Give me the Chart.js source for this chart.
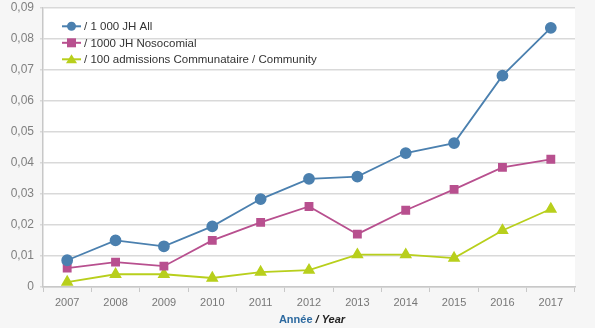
<!DOCTYPE html>
<html>
<head>
<meta charset="utf-8">
<script src="https://cdn.jsdelivr.net/npm/chart.js@4"></script>
<style>
  html, body { margin: 0; padding: 0; background: #f6f6f6; }
  #wrap { width: 595px; height: 328px; }
</style>
</head>
<body>
<div id="wrap"><canvas id="chart"></canvas></div>
<script>
const years = ['2007','2008','2009','2010','2011','2012','2013','2014','2015','2016','2017'];
const allJH = [0.0086, 0.0150, 0.0131, 0.0195, 0.0283, 0.0348, 0.0355, 0.0431, 0.0463, 0.0680, 0.0834];
const nosoJH = [0.0061, 0.0080, 0.0067, 0.0150, 0.0208, 0.0259, 0.0170, 0.0247, 0.0314, 0.0385, 0.0411];
const community = [0.0016, 0.0041, 0.0041, 0.0029, 0.0048, 0.0054, 0.0104, 0.0104, 0.0093, 0.0182, 0.0251];
const seriesNames = ['/ 1 000 JH All', '/ 1000 JH Nosocomial', '/ 100 admissions Communataire / Community'];

const blue = '#4b80af';
const pink = '#b8508f';
const green = '#b8cf1c';

// white plot area on grey page
const plotBg = {
  id: 'plotBg',
  beforeDraw(chart) {
    const {ctx, chartArea: a} = chart;
    ctx.save();
    ctx.fillStyle = '#ffffff';
    ctx.fillRect(a.left, a.top, a.right - a.left, a.bottom - a.top);
    ctx.restore();
  }
};

// legend inside the plot, top left
const innerLegend = {
  id: 'innerLegend',
  afterDatasetsDraw(chart) {
    const {ctx, chartArea: a} = chart;
    ctx.save();
    chart.data.datasets.forEach((ds, i) => {
      const y = a.top + 19 + i * 16.5;
      const x0 = a.left + 19;
      ctx.strokeStyle = ds.borderColor;
      ctx.lineWidth = 2;
      ctx.beginPath();
      ctx.moveTo(x0, y);
      ctx.lineTo(x0 + 19, y);
      ctx.stroke();
      ctx.fillStyle = ds.borderColor;
      const cx = x0 + 9.5;
      if (ds.pointStyle === 'circle') {
        ctx.beginPath(); ctx.arc(cx, y, 4.5, 0, Math.PI * 2); ctx.fill();
      } else if (ds.pointStyle === 'rect') {
        ctx.fillRect(cx - 4.5, y - 4.5, 9, 9);
      } else {
        ctx.beginPath(); ctx.moveTo(cx, y - 5); ctx.lineTo(cx + 5.5, y + 4); ctx.lineTo(cx - 5.5, y + 4); ctx.closePath(); ctx.fill();
      }
      ctx.fillStyle = '#333';
      ctx.font = '11.5px "Liberation Sans", Arial, sans-serif';
      ctx.textBaseline = 'middle';
      ctx.fillText(ds.label, x0 + 22, y + 1);
    });
    ctx.restore();
  }
};

// two-style axis title under the x axis
const xTitle = {
  id: 'xTitle',
  afterDraw(chart) {
    const {ctx} = chart;
    ctx.save();
    ctx.textBaseline = 'middle';
    const y = 320;
    ctx.font = 'bold 11px "Liberation Sans", Arial, sans-serif';
    const p1 = 'Année';
    const w1 = ctx.measureText(p1).width;
    ctx.font = 'italic bold 11px "Liberation Sans", Arial, sans-serif';
    const p2 = ' / Year';
    const w2 = ctx.measureText(p2).width;
    const x = 312 - (w1 + w2) / 2;
    ctx.font = 'bold 11px "Liberation Sans", Arial, sans-serif';
    ctx.fillStyle = '#2d6aa0';
    ctx.fillText(p1, x, y);
    ctx.font = 'italic bold 11px "Liberation Sans", Arial, sans-serif';
    ctx.fillStyle = '#222';
    ctx.fillText(p2, x + w1, y);
    ctx.restore();
  }
};

function mk(label, data, color, style) {
  return {
    label, data,
    borderColor: color, backgroundColor: color,
    pointBackgroundColor: color, pointBorderColor: color,
    pointStyle: style, pointRadius: style === 'triangle' ? 5.5 : 5,
    borderWidth: 1.8, tension: 0
  };
}

new Chart(document.getElementById('chart'), {
  type: 'line',
  data: {
    labels: years,
    datasets: [
      mk(seriesNames[0], allJH, blue, 'circle'),
      mk(seriesNames[1], nosoJH, pink, 'rect'),
      mk(seriesNames[2], community, green, 'triangle')
    ]
  },
  options: {
    responsive: true,
    maintainAspectRatio: false,
    animation: false,
    layout: { padding: { top: 1, right: 20, left: 0, bottom: 0 } },
    plugins: { legend: { display: false }, tooltip: { enabled: false } },
    scales: {
      x: {
        offset: true,
        grid: { offset: true, drawOnChartArea: false, color: '#c8c8c8', tickLength: 5 },
        border: { color: '#c8c8c8', width: 1.5 },
        ticks: { color: '#777', font: { size: 11, family: '"Liberation Sans", Arial, sans-serif' }, padding: 4, maxRotation: 0 },
        afterFit(s) { s.height = 41; }
      },
      y: {
        min: 0, max: 0.09,
        ticks: {
          stepSize: 0.01,
          color: '#808080',
          font: { size: 12, family: '"Liberation Sans", Arial, sans-serif' },
          padding: 6,
          callback: v => v === 0 ? '0' : v.toFixed(2).replace('.', ',')
        },
        grid: { color: '#d9d9d9', lineWidth: 1.5, tickLength: 3 },
        border: { color: '#c8c8c8', width: 1.5 },
        afterFit(s) { s.width = 43; s.paddingTop = 0; s.paddingBottom = 0; }
      }
    }
  },
  plugins: [plotBg, innerLegend, xTitle]
});
</script>
</body>
</html>
